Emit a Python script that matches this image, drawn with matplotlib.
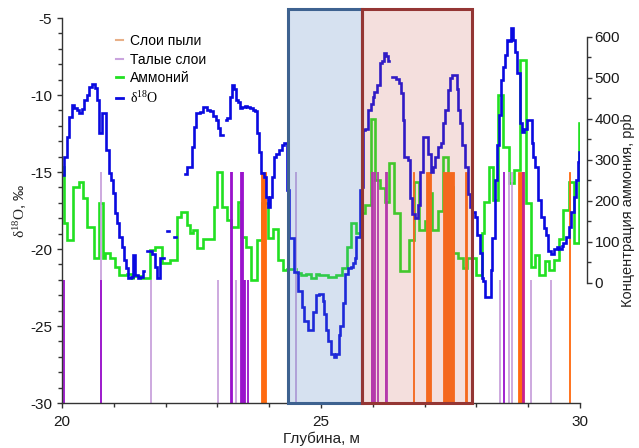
import numpy as np
import matplotlib.pyplot as plt
from matplotlib.lines import Line2D
from matplotlib.patches import Rectangle

plt.rcParams['font.family'] = ['Liberation Sans', 'DejaVu Sans']
plt.rcParams['mathtext.fontset'] = 'custom'
plt.rcParams['mathtext.rm'] = 'Liberation Serif'
plt.rcParams['axes.unicode_minus'] = False

nan = np.nan

# d18O step curve (depth of step start, value in permil)
d18o_depth = [20.00, 20.04, 20.09, 20.14, 20.19, 20.23, 20.28, 20.33, 20.38, 20.43,
              20.48, 20.53, 20.58, 20.63, 20.67, 20.72, 20.77, 20.85, 20.90, 20.94,
              20.98, 21.03, 21.07, 21.11, 21.16, 21.20, 21.24, 21.28, 21.33, 21.38,
              21.41, 21.46, 21.51, 21.56, 21.59, 21.65, 21.74, 21.80, 21.84, 21.90,
              21.96, 22.03, 22.07, 22.17, 22.21, 22.38, 22.42, 22.51, 22.54, 22.58,
              22.62, 22.67, 22.73, 22.77, 22.80, 22.85, 22.92, 22.97, 23.01, 23.05,
              23.11, 23.16, 23.19, 23.24, 23.29, 23.32, 23.35, 23.39, 23.44, 23.48,
              23.53, 23.58, 23.63, 23.68, 23.72, 23.76, 23.80, 23.85, 23.89, 23.93,
              23.97, 24.01, 24.05, 24.09, 24.14, 24.19, 24.24, 24.29, 24.35, 24.39,
              24.48, 24.55, 24.63, 24.68, 24.75, 24.84, 24.90, 24.97, 25.03, 25.06,
              25.10, 25.14, 25.19, 25.25, 25.29, 25.34, 25.37, 25.42, 25.47, 25.52,
              25.57, 25.61, 25.65, 25.68, 25.76, 25.79, 25.81, 25.85, 25.91, 25.96,
              26.00, 26.03, 26.09, 26.13, 26.18, 26.22, 26.26, 26.29, 26.32, 26.37,
              26.45, 26.50, 26.54, 26.58, 26.61, 26.67, 26.71, 26.76, 26.81, 26.87,
              26.92, 26.97, 27.07, 27.12, 27.16, 27.21, 27.26, 27.31, 27.36, 27.40,
              27.46, 27.49, 27.53, 27.62, 27.65, 27.68, 27.73, 27.78, 27.83, 27.87,
              27.92, 27.97, 28.02, 28.07, 28.10, 28.13, 28.16, 28.28, 28.31, 28.35,
              28.39, 28.44, 28.47, 28.52, 28.55, 28.60, 28.63, 28.67, 28.71, 28.75,
              28.79, 28.84, 28.88, 28.91, 28.97, 29.07, 29.10, 29.14, 29.19, 29.25,
              29.30, 29.34, 29.39, 29.44, 29.49, 29.55, 29.60, 29.65, 29.68, 29.73,
              29.78, 29.83, 29.88, 29.92, 29.96, 29.99, 30.01, 30.02]
d18o_value = [-15.2, -14.0, -12.7, -11.4, -10.65, -10.87, -10.97, -11.15, -10.93, -10.3,
              -10.0, -9.46, -9.29, -9.57, -10.3, -12.5, -11.2, -13.57, -15.09, -15.52,
              -16.39, -17.68, -18.33, -19.2, -19.85, -20.7, -21.25, -21.9, -21.85, -20.4,
              -21.7, -21.9, -21.8, -21.4, nan, -20.1, -20.3, -21.15, -21.9, -20.6,
              nan, -18.8, nan, -19.2, nan, -15.1, -14.7, -13.36, -12.06, -11.19,
              -11.15, -11.1, -10.76, -10.8, -10.95, -11.05, -11.35, -11.62, -12.16, -12.6,
              nan, -11.6, -11.5, -10.1, -9.35, -9.6, -10.3, -10.45, -10.87, -10.8,
              -10.7, -10.8, -10.87, -10.95, -11.05, -12.49, -13.68, -15.09, -15.3, -16.6,
              -17.25, -16.6, -15.3, -14.0, -13.8, -13.57, -13.25, -13.14, -16.2, -19.3,
              -21.5, -22.7, -23.75, -24.7, -25.26, -24.1, -23.0, -22.9, -23.4, -24.2,
              -25.26, -26.0, -26.8, -27.03, -26.8, -25.6, -25.0, -23.5, -21.6, -21.25,
              -21.2, -20.9, -20.6, -19.2, -16.2, -16.0, -12.3, -12.2, -10.97, -10.6,
              -10.1, -9.78, -9.35, -7.94, -7.8, -7.3, -7.5, -7.8, nan, -8.85,
              -8.95, -9.24, -9.89, -11.6, -14.0, -14.2, -16.7, -17.7, -18.0, -17.15,
              -14.98, -12.7, -13.8, -14.98, -14.7, -14.0, -13.36, -13.1, -11.84, -10.97,
              -9.68, -8.9, -8.7, -9.6, -10.97, -11.84, -13.25, -14.65, -16.4, -17.25,
              -17.58, -17.9, -19.1, -20.28, -21.9, -22.1, -23.1, -21.36, -19.3, -15.5,
              -13.25, -11.3, -9.03, -8.16, -7.4, -6.43, -6.5, -5.67, -6.4, -7.19,
              -8.6, -11.84, -12.4, -12.2, -11.62, -13.14, -14.0, -14.65, -16.8, -17.9,
              -18.66, -19.1, -20.1, -20.3, -20.0, -19.9, -20.0, -19.8, -19.6, -19.2,
              -18.55, -17.6, -16.6, -15.5, -14.33, -13.7, -12.8, -12.8]

# ammonium step curve (depth of step start, ppb)
nh4_depth = [20.00, 20.03, 20.10, 20.21, 20.32, 20.40, 20.48, 20.61, 20.72, 20.79,
             20.83, 20.92, 21.03, 21.11, 21.25, 21.35, 21.38, 21.54, 21.70, 21.80,
             21.93, 22.09, 22.22, 22.29, 22.42, 22.48, 22.53, 22.61, 22.73, 22.93,
             23.00, 23.08, 23.18, 23.27, 23.39, 23.46, 23.55, 23.64, 23.77, 23.87,
             23.97, 24.08, 24.17, 24.26, 24.35, 24.52, 24.61, 24.71, 24.81, 24.90,
             24.97, 25.13, 25.29, 25.40, 25.50, 25.58, 25.68, 25.79, 25.85, 25.96,
             26.05, 26.13, 26.23, 26.31, 26.41, 26.52, 26.69, 26.80, 26.89, 27.00,
             27.08, 27.15, 27.26, 27.36, 27.46, 27.55, 27.65, 27.75, 27.81, 28.00,
             28.10, 28.15, 28.24, 28.33, 28.42, 28.52, 28.63, 28.73, 28.84, 28.95,
             29.06, 29.13, 29.21, 29.32, 29.41, 29.49, 29.59, 29.68, 29.78, 29.88,
             29.99, 30.00]
nh4_value = [284, 146, 105, 235, 247, 207, 137, 60, 194, 60,
             72, 60, 40, 19, 23, 11, 17, 11, 80, 88,
             48, 56, 162, 174, 141, 121, 129, 85, 107, 186,
             271, 186, 154, 137, 198, 113, 88, 7, 105, 195,
             110, 131, 56, 32, 34, 24, 19, 22, 11, 22,
             19, 14, 19, 36, 87, 147, 121, 170, 190, 399,
             251, 231, 198, 292, 171, 30, 105, 247, 129, 150,
             219, 129, 176, 308, 234, 72, 60, 36, 60, 19,
             122, 198, 284, 202, 459, 332, 245, 276, 544, 194,
             40, 68, 19, 54, 32, 56, 107, 178, 247, 97,
             389, 389]

# dust layers (depth intervals, m)
dust_top = [23.85, 26.775, 27.02, 27.36, 27.78, 28.81, 29.78]
dust_bottom = [23.93, 26.79, 27.12, 27.56, 27.81, 28.88, 29.81]

# melt layers: depth, upper end of the mark (permil axis), kind
melt_depth = [20.75, 23.27, 23.29, 23.45, 23.47, 23.49, 24.52, 25.99, 26.01, 26.04,
              26.10, 26.25, 26.27, 28.53, 28.63, 28.68, 28.89, 28.91,
              20.04, 20.75, 21.72, 23.01, 23.36, 23.51, 23.53, 23.59, 25.98, 26.03,
              26.26, 28.46, 29.06, 29.44]
melt_level = [-15] * 18 + [-22] * 14
melt_kind = ['light', 'dark', 'dark', 'dark', 'dark', 'dark', 'light', 'mag', 'mag', 'mag',
             'mag', 'mag', 'mag', 'dark', 'light', 'light', 'pink', 'pink',
             'dark', 'dark', 'light', 'light', 'light', 'dark', 'dark', 'dark', 'mag', 'mag',
             'mag', 'light', 'light', 'light']
melt_colors = {'light': '#c9a2dc', 'dark': '#9a10cc', 'mag': '#b030c0', 'pink': '#c8208c'}

# highlighted depth ranges
zone_blue = (24.36, 25.79)
zone_red = (25.79, 27.91)

fig = plt.figure(figsize=(6.39, 4.48), dpi=100)
ax = fig.add_axes([62 / 639, 1 - 403 / 448, 518 / 639, 385 / 448])
ax2 = ax.twinx()
ax.set_zorder(ax2.get_zorder() + 1)
ax.patch.set_visible(False)

# dust layers
for a, b in zip(dust_top, dust_bottom):
    ax.bar(a, 15, width=b - a, bottom=-30, align='edge', color='#ff6a10',
           edgecolor='#ff6a10', linewidth=0.6, zorder=1)

# melt layers
ax.vlines(melt_depth, -30, melt_level, colors=[melt_colors[k] for k in melt_kind],
          linewidth=1.3, zorder=1.2)

ax2.step(nh4_depth, nh4_value, where='post', color='#22e022', lw=1.9,
         solid_joinstyle='miter')
ax.step(d18o_depth, d18o_value, where='post', color='#0a0ae0', lw=1.9,
        solid_joinstyle='miter', zorder=2)

# zones, drawn over the curves
r1 = Rectangle((zone_blue[0], -30), zone_blue[1] - zone_blue[0], 25.6,
               facecolor=(0.36, 0.54, 0.77, 0.25), edgecolor='#3e6290', lw=2.2,
               zorder=3, clip_on=False)
r2 = Rectangle((zone_red[0], -30), zone_red[1] - zone_red[0], 25.6,
               facecolor=(0.80, 0.39, 0.35, 0.20), edgecolor='#943634', lw=2.2,
               zorder=3, clip_on=False)
ax.add_patch(r1)
ax.add_patch(r2)

ax.set_xlim(20, 30)
ax.set_ylim(-30, -5)
ax2.set_ylim(-292.7, 646.3)

ax.set_xticks([20, 25, 30])
ax.set_xticks(np.arange(20, 31, 1), minor=True)
ax.set_yticks(np.arange(-30, -4, 5))
ax.set_yticks(np.arange(-30, -4, 1), minor=True)
ax2.set_yticks(np.arange(0, 601, 100))
ax2.set_yticks(np.arange(0, 601, 50), minor=True)

for s in ['top', 'right']:
    ax.spines[s].set_visible(False)
for s in ['top', 'left', 'bottom']:
    ax2.spines[s].set_visible(False)
ax2.spines['right'].set_bounds(0, 600)
ax2.spines['right'].set_position(('outward', 5))
for sp in [ax.spines['left'], ax.spines['bottom'], ax2.spines['right']]:
    sp.set_color('#333333')
    sp.set_linewidth(1.0)

for a in (ax, ax2):
    a.tick_params(which='major', length=3.5, width=1, color='#333333',
                  labelsize=11, labelcolor='#1a1a1a')
    a.tick_params(which='minor', length=3, width=1, color='#333333')
ax.tick_params(axis='x', pad=5)
ax2.tick_params(axis='y', pad=2)

ax.set_xlabel('Глубина, м', fontsize=11, labelpad=2, color='#222222')
ax.set_ylabel(r'$\mathrm{\delta^{18}O}$, ‰', fontsize=11, labelpad=1, color='#222222')
ax2.set_ylabel('Концентрация аммония, ppb', fontsize=10.5, labelpad=1, color='#222222')

handles = [Line2D([], [], color='#e8b088', lw=1.5),
           Line2D([], [], color='#caa4de', lw=1.5),
           Line2D([], [], color='#22e022', lw=2),
           Line2D([], [], color='#0a0ae0', lw=2)]
labels = ['Слои пыли', 'Талые слои', 'Аммоний', r'$\mathrm{\delta^{18}O}$']
ax.legend(handles, labels, loc='upper left', bbox_to_anchor=(0.104, 0.958),
          frameon=False, fontsize=10, handlelength=0.5, handletextpad=0.5,
          labelspacing=0.33, borderpad=0, borderaxespad=0)

fig.savefig('out.png', dpi=100)
